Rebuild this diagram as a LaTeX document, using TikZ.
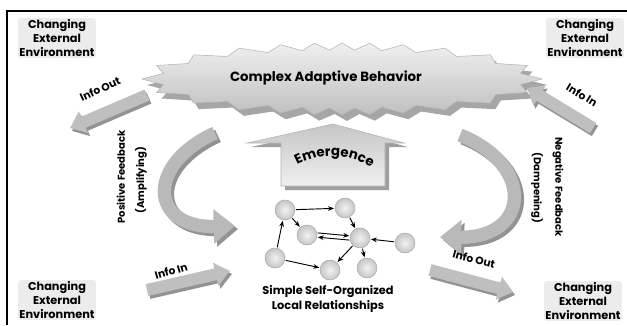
\documentclass[tikz,border=0pt]{standalone}
\usepackage{fontspec}
\setmainfont{Poppins}
\usetikzlibrary{arrows.meta,decorations.text}

\tikzset{
  envtext/.style={fill=gray!15, rounded corners=2pt, inner sep=1pt, align=center, font=\fontsize{8.5}{10.5}\selectfont\bfseries},
  flowtext/.style={font=\fontsize{8}{9}\selectfont\bfseries},
  sidetext/.style={font=\fontsize{7.5}{9}\selectfont\bfseries},
  infoarrow/.style={line width=9pt, draw=gray!50, -{Triangle[length=11pt,width=17pt]}},
  infoshadow/.style={line width=9pt, draw=gray!85, -{Triangle[length=11pt,width=17pt]}},
  loopar/.style={line width=10pt, draw=gray!55, -{Triangle[length=16pt,width=25pt]}},
  loopshadow/.style={line width=10pt, draw=gray!85, -{Triangle[length=16pt,width=25pt]}},
  agent/.style={circle, minimum size=15pt, inner sep=0pt, draw=gray!65, line width=0.4pt, inner color=gray!10, outer color=gray!45},
  link/.style={-{Stealth[length=4.5pt,width=3.5pt]}, line width=0.7pt, shorten <=0.5pt, shorten >=0.5pt},
}

\begin{document}
\begin{tikzpicture}[x=0.75pt,y=0.75pt,yscale=-1,xscale=1]
\useasboundingbox (0,0) rectangle (627,325);

%Frame
\draw[line width=1.5pt] (7,325) -- (7,11) -- (627,11);

%Shape: Burst shadow
\fill[gray!70] plot[samples at={0,7.5,...,352.5}, variable=\u] ({347+ifthenelse(mod(\u,15)==0,200,182)*cos(\u+14*sin(2*\u))}, {85+ifthenelse(mod(\u,15)==0,36,29)*sin(\u+14*sin(2*\u))}) -- cycle;
%Shape: Burst
\shade[top color=gray!12, bottom color=gray!50, draw=gray!60, line width=0.4pt] plot[samples at={0,7.5,...,352.5}, variable=\u] ({342+ifthenelse(mod(\u,15)==0,200,182)*cos(\u+14*sin(2*\u))}, {79+ifthenelse(mod(\u,15)==0,36,29)*sin(\u+14*sin(2*\u))}) -- cycle;

%Shape: Emergence arrow
\fill[gray!75] (337,128) -- (408,147) -- (389,147) -- (389,190) -- (285,190) -- (285,147) -- (251,147) -- cycle;
\shade[top color=gray!45, bottom color=gray!12, draw=gray!60] (333,124) -- (404,143) -- (385,143) -- (385,186) -- (281,186) -- (281,143) -- (247,143) -- cycle;
\path[decorate, decoration={text along path, text={|\fontsize{10}{12}\selectfont\bfseries|Emergence}, text align=center}] (286,172) .. controls (315,150) and (352,150) .. (382,175);

%Info arrows
\coordinate (outA) at (147,95);
\coordinate (outB) at (70,128);
\draw[infoshadow] ([shift={(2,3)}]outA) -- ([shift={(2,3)}]outB);
\draw[infoarrow] (outA) -- (outB);

\coordinate (inA) at (593,128);
\coordinate (inB) at (527,88);
\draw[infoshadow] ([shift={(2,3)}]inA) -- ([shift={(2,3)}]inB);
\draw[infoarrow] (inA) -- (inB);

\coordinate (in2A) at (147,290);
\coordinate (in2B) at (230,271);
\draw[infoshadow] ([shift={(2,3)}]in2A) -- ([shift={(2,3)}]in2B);
\draw[infoarrow] (in2A) -- (in2B);

\coordinate (out2A) at (430,270);
\coordinate (out2B) at (513,292);
\draw[infoshadow] ([shift={(2,3)}]out2A) -- ([shift={(2,3)}]out2B);
\draw[infoarrow] (out2A) -- (out2B);

%Feedback loops
\coordinate (posA) at (215,133);
\coordinate (posB) at (235,226);
\draw[loopshadow] ([shift={(3,3)}]posA) .. controls (148,168) and (153,231) .. ([shift={(3,3)}]posB);
\draw[loopar] (posA) .. controls (145,165) and (150,228) .. (posB);

\coordinate (negA) at (460,135);
\coordinate (negB) at (440,237);
\draw[loopshadow] ([shift={(3,3)}]negA) .. controls (538,168) and (533,241) .. ([shift={(3,3)}]negB);
\draw[loopar] (negA) .. controls (535,165) and (530,238) .. (negB);

%Network
\node[agent] (n1) at (285,210) {};
\node[agent] (n2) at (345,208) {};
\node[agent] (n3) at (307,235) {};
\node[agent] (hub) at (360,238) {};
\node[agent] (n5) at (405,243) {};
\node[agent] (n6) at (275,258) {};
\node[agent] (n7) at (330,270) {};
\node[agent] (n8) at (367,268) {};

\draw[link] (n1) -- (n2);
\draw[link] (n1) -- (n3);
\draw[link] (n2) -- (hub);
\draw[link] (n3.12) -- (hub.168);
\draw[link] (hub.192) -- (n3.348);
\draw[link] (n5) -- (hub);
\draw[link] (hub) -- (n7);
\draw[link] (hub) -- (n8);
\draw[link] (n6) -- (n1);
\draw[link] (n6) -- (n7);

% Text Node
\node[font=\fontsize{10}{12}\selectfont\bfseries] (cab) at (326,78) {Complex Adaptive Behavior};
% Text Node
\node[align=center, font=\fontsize{8.5}{11}\selectfont\bfseries] (local) at (328,299) {Simple Self-Organized\\Local Relationships};
% Text Node
\node[envtext] (envTL) at (57,38) {Changing\\External\\Environment};
\node[envtext] (envTR) at (585,38) {Changing\\External\\Environment};
\node[envtext] (envBL) at (57,300) {Changing\\External\\Environment};
\node[envtext] (envBR) at (583,301) {Changing\\External\\Environment};
% Text Node
\node[flowtext, rotate=25] (lblOut) at (100,89) {Info Out};
\node[flowtext, rotate=-31] (lblIn) at (582,95) {Info In};
\node[flowtext, rotate=16] (lblIn2) at (171,271) {Info In};
\node[flowtext, rotate=-14] (lblOut2) at (474,259) {Info Out};
% Text Node
\node[sidetext, rotate=90] (pos1) at (121,177) {Positive Feedback};
\node[sidetext, rotate=90] (pos2) at (141,180) {(Amplifying)};
\node[sidetext, rotate=-90] (neg1) at (558,187) {Negative Feedback};
\node[sidetext, rotate=-90] (neg2) at (537,188) {(Dampening)};

\end{tikzpicture}
\end{document}
